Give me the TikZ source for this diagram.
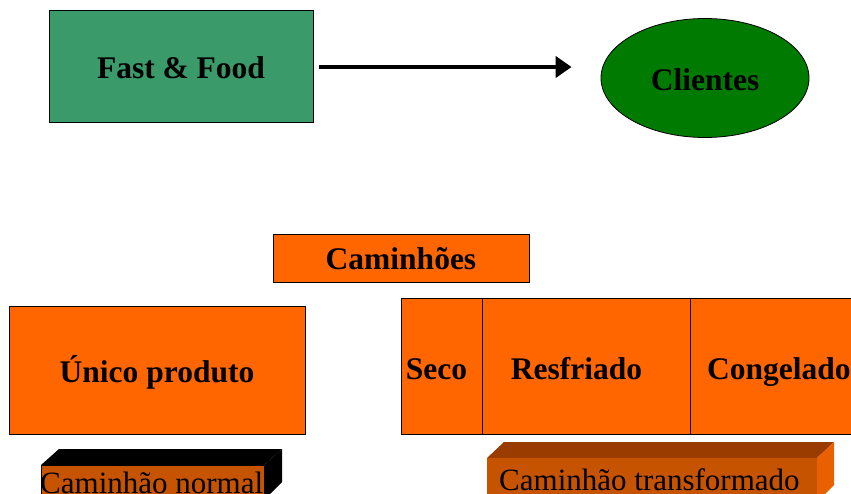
\documentclass[tikz,border=0pt]{standalone}
\usepackage{fontspec}
\setmainfont{Liberation Serif}
\usetikzlibrary{shapes.geometric,arrows.meta}
\definecolor{ffgreen}{HTML}{3A9A6A}
\definecolor{clgreen}{HTML}{007A00}
\definecolor{orng}{HTML}{FF6600}
\definecolor{frontor}{HTML}{C65300}
\definecolor{toptr}{HTML}{9A3C00}
\definecolor{sidetr}{HTML}{E86000}
\begin{document}
\begin{tikzpicture}[x=1pt,y=-1pt,
  lbl/.style={font=\fontsize{31.5}{36}\selectfont\bfseries, inner sep=0pt},
  plain/.style={font=\fontsize{31}{36}\selectfont, inner sep=0pt, anchor=base west},
  box/.style={draw=black, line width=0.8pt, inner sep=0pt},
  cell/.style={box, fill=orng, anchor=north west, minimum height=136pt}]
\useasboundingbox (0,0) rectangle (851,493);
\clip (0,0) rectangle (851,493);
% top row
\node[box, fill=ffgreen, minimum width=264pt, minimum height=112pt] (ff) at (181,66) {};
\node[lbl] at (181,68) {Fast \& Food};
\node[box, ellipse, fill=clgreen, minimum width=208pt, minimum height=119pt] (cl) at (705,78) {};
\node[lbl] at (705,80) {Clientes};
\draw[line width=4.2pt, -{Triangle[length=16pt,width=21pt]}, shorten <=6pt, shorten >=29pt] (ff.east |- 0,67) -- (cl.west |- 0,67);
% Caminhoes
\node[box, fill=orng, minimum width=256pt, minimum height=48pt] (cam) at (401,258) {};
\node[lbl] at (401,259) {Caminhões};
% Unico produto
\node[box, fill=orng, minimum width=296pt, minimum height=128pt] (un) at (157,370) {};
\node[lbl] at (157,372) {Único produto};
% right box cells
\node[cell, minimum width=81pt] (seco) at (401,298) {};
\node[cell, minimum width=208pt] (resf) at (482,298) {};
\node[cell, minimum width=180pt] (cong) at (690,298) {};
\node[lbl, anchor=base] at (436.5,379) {Seco};
\node[lbl, anchor=base] at (576.5,379) {Resfriado};
\node[lbl, anchor=base west] at (707,379) {Congelado};
% Caminhao normal (3D bar)
\fill[black] (41,465) -- (59,449) -- (282,449) -- (264,465) -- cycle;
\fill[black] (264,465) -- (282,449) -- (282,482) -- (264,500) -- cycle;
\node[box, fill=frontor, anchor=north west, minimum width=223pt, minimum height=35pt] (cn) at (41,465) {};
\node[plain] at (40,493) {Caminhão normal};
% Caminhao transformado (3D bar)
\fill[toptr] (487,458) -- (504,442) -- (834,442) -- (817,458) -- cycle;
\fill[sidetr] (817,458) -- (834,442) -- (834,485) -- (817,502) -- cycle;
\node[fill=frontor, inner sep=0pt, anchor=north west, minimum width=330pt, minimum height=40pt] (ct) at (487,458) {};
\node[plain] at (499,490) {Caminhão transformado};
\end{tikzpicture}
\end{document}
